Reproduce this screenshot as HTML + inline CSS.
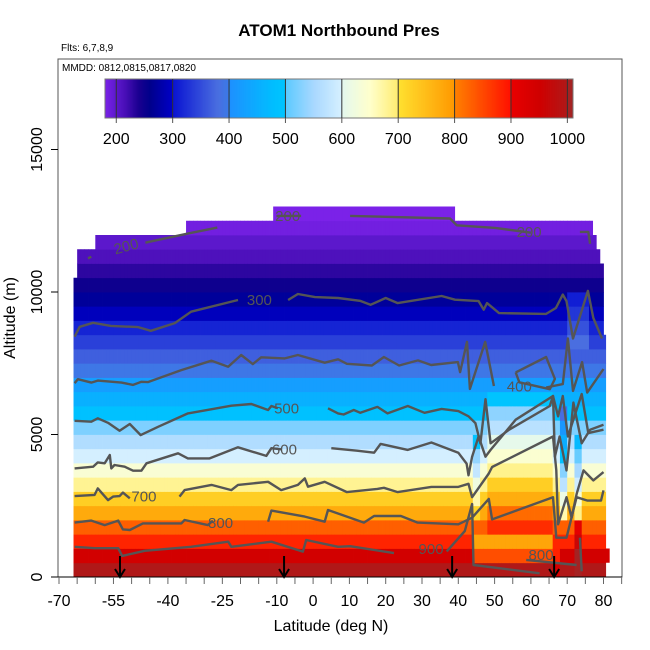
<!DOCTYPE html>
<html><head><meta charset="utf-8"><style>
html,body{margin:0;padding:0;background:#fff;}
svg{display:block;font-family:"Liberation Sans",sans-serif;}
</style></head><body>
<svg id="chart" width="650" height="650" viewBox="0 0 650 650">
<text x="339" y="36" text-anchor="middle" font-size="17" font-weight="bold">ATOM1 Northbound Pres</text>
<text x="61" y="51" font-size="10">Flts: 6,7,8,9</text>
<g id="heat"></g>
<g id="contours"></g>
<g id="arrows"></g>
<rect x="58" y="59" width="564" height="518" fill="none" stroke="#555" stroke-width="1"/>
<text x="62" y="71" font-size="10">MMDD: 0812,0815,0817,0820</text>
<g id="cbar"></g>
<g id="xaxis"></g>
<g id="yaxis"></g>
<text x="331" y="631" text-anchor="middle" font-size="16">Latitude (deg N)</text>
<text transform="translate(15,318) rotate(-90)" text-anchor="middle" font-size="16">Altitude (m)</text>
</svg>
<script>
// ---- data ----
const rowBasePres = [1000,945,882,830,775,726,681,639,598,560,523,488,455,424,395,367,340,315,292,270,249,230,212,200,186,172];
const extentStart = [-66,-65,-60,-35,-11,39,77,78,79,80];
const extentEnd   = [-65,-60,-35,-11,39,77,78,79,80,80.6];
const extentTopKm = [10.5,11.5,12,12.5,13,12.5,12,11.5,11,8.5];
const patchLat0 = [44.5,48,44,68,72,72,70,66];
const patchLat1 = [46.5,66,66,70,74,74,76,68];
const patchAlt0 = [2,1.5,0.5,2,2,0,8,0];
const patchAlt1 = [5,6.5,1.5,6,5,2,10,1];
const patchDelta = [-60,45,-100,-110,-90,80,40,-60];
const cbTicks = [200,300,400,500,600,700,800,900,1000];
const xTickLabels = [-70,-55,-40,-25,-10,0,10,20,30,40,50,60,70,80];
const yTicks = [0,5000,10000,15000];
const arrowLats = [-53.2,-8.0,38.3,66.4];
const contourLevels = ["200","300","400","500","600","700","800","900"];
const c200 = [[[-62.0,11.18],[-61.1,11.24]],[[-46.2,11.73],[-45.5,11.75],[-34.2,12.06],[-26.4,12.26]],[[-10.1,12.67],[-3.3,12.67]],[[10.2,12.67],[37.7,12.58],[39.6,12.34],[50.2,12.25],[60.0,12.08]],[[73.5,12.11],[75.8,12.11],[76.3,11.69]]];
const c300 = [[[-65.7,8.43],[-64.3,8.78],[-60.6,8.92],[-55.7,8.81],[-48.2,8.77],[-44.7,8.64],[-38.1,8.91],[-33.6,9.31],[-20.7,9.72]],[[-6.9,9.72],[-4.2,9.93],[0.5,9.82],[6.9,9.79],[12.9,9.69],[15.8,9.55],[20.0,9.79],[23.3,9.61],[35.4,9.86],[39.1,9.73],[45.6,9.68],[47.0,9.38],[47.9,9.61],[51.2,9.26],[64.2,9.23],[66.9,9.44],[68.8,9.91],[69.8,9.68],[71.6,8.37],[75.7,10.04],[77.2,9.09],[79.6,8.37]]];
const c400 = [[[-65.7,6.80],[-64.8,6.94],[-61.1,6.82],[-59.3,6.89],[-52.8,6.82],[-49.6,6.74],[-47.3,6.85],[-45.5,6.84],[-36.3,7.26],[-28.0,7.59],[-23.4,7.38],[-19.8,7.79],[-16.6,7.47],[-14.3,7.71],[-7.8,7.67],[-4.2,7.79],[3.2,7.52],[6.9,7.64],[9.3,7.48],[16.2,7.42],[19.5,7.72],[23.7,7.42],[28.9,7.60],[32.5,7.44],[39.9,7.54],[40.5,7.19],[42.4,8.25],[43.2,6.60],[47.4,8.25],[49.8,6.70]],[[64.2,6.65],[68.8,6.77],[70.2,8.37],[71.6,6.53],[74.1,7.54],[75.5,6.47],[80.0,7.30]],[[55.8,7.18],[64.2,7.72],[66.6,6.95],[65.2,6.59],[56.8,6.83],[55.8,7.18]]];
const c500 = [[[-65.7,5.48],[-61.1,5.45],[-59.3,5.57],[-56.5,5.41],[-53.3,5.13],[-50.5,5.37],[-47.5,4.98],[-42.7,5.27],[-34.5,5.74],[-22.5,6.01],[-17.0,6.07],[-12.4,5.86],[-11.5,6.00],[-9.7,5.92]],[[4.1,5.92],[6.9,5.74],[8.4,5.70],[11.2,5.86],[13.0,5.76],[17.7,5.97],[20.5,5.74],[26.1,6.00],[30.7,5.76],[35.4,5.90],[40.0,5.82],[42.8,5.64],[44.7,5.40],[46.1,4.69],[47.5,6.24],[48.9,4.69],[54.0,5.17],[65.2,6.00],[66.1,6.35],[67.5,5.64],[68.8,6.35],[70.2,4.93],[74.0,6.42],[75.8,5.05],[80.0,5.17]]];
const c600 = [[[-65.7,3.81],[-60.6,3.87],[-59.3,4.02],[-57.4,3.99],[-56.0,4.28],[-55.6,3.81],[-54.7,3.93],[-51.9,3.87],[-49.6,3.73],[-47.3,3.73],[-45.9,3.99],[-37.2,4.34],[-34.5,4.16],[-28.5,4.16],[-20.7,4.55],[-12.9,4.25],[-11.5,4.52],[-8.8,4.48]],[[5.0,4.52],[12.1,4.43],[16.8,4.36],[18.6,4.67],[26.1,4.46],[32.6,4.72],[40.0,4.36],[42.3,3.98],[42.8,3.57],[43.8,4.22],[45.6,4.93],[47.5,4.22],[48.9,4.46],[55.8,5.52],[66.1,6.35],[66.6,4.22],[67.9,4.93],[69.8,3.74],[71.7,6.12],[74.0,4.69],[76.3,5.17],[80.0,5.34]]];
const c700 = [[[-65.7,2.84],[-60.2,2.88],[-59.3,3.11],[-56.5,2.70],[-55.1,2.82],[-53.3,2.84],[-52.4,2.96],[-50.5,2.76]],[[-36.8,2.82],[-35.4,3.05],[-28.0,3.23],[-22.5,3.05],[-20.7,3.23],[-12.4,3.34],[-8.8,3.05],[-4.2,3.23],[-2.3,3.46],[-1.4,3.17],[3.2,3.34],[9.3,2.98],[17.7,3.09],[19.5,3.13],[23.3,2.98],[32.6,3.16],[40.0,3.16],[42.8,3.27],[43.8,2.80],[48.4,3.63],[49.3,3.86],[66.1,4.93],[67.0,3.74],[67.5,1.85],[69.8,2.80],[71.2,2.08],[72.6,2.91],[74.5,3.74],[77.2,3.39],[80.0,3.68]]];
const c800 = [[[-65.7,1.91],[-61.1,1.98],[-57.4,1.82],[-53.7,1.98],[-52.4,1.67],[-50.5,1.65],[-46.9,1.88],[-36.3,1.88],[-35.4,2.00],[-29.0,1.82],[-27.6,1.98]],[[-12.4,1.94],[-11.5,2.33],[-2.3,2.12],[3.2,1.94],[4.1,2.35],[10.2,2.08],[14.0,1.91],[16.8,2.14],[24.2,2.14],[28.8,1.91],[40.0,1.85],[43.8,2.08],[48.4,2.74],[49.3,2.02],[66.1,2.80],[67.0,1.38],[69.8,1.38],[72.6,2.80],[75.6,2.68],[79.3,2.68],[80.0,3.04]],[[58.7,0.60],[72.6,0.42]]];
const c900 = [[[-65.7,1.06],[-60.2,1.01],[-53.7,1.01],[-52.6,0.74],[-46.4,0.92],[-33.6,1.06],[-23.4,1.24],[-22.5,1.06],[-11.5,1.24],[-2.8,0.89],[-1.9,1.30],[6.9,1.06],[10.2,1.08],[22.3,0.84]],[[36.8,0.90],[41.8,1.61],[43.8,2.56],[44.2,0.42],[62.4,0.13]],[[73.5,1.38],[74.0,0.2]]];
const contourSets = [c200,c300,c400,c500,c600,c700,c800,c900];
const labelText = ["200","200","200","300","400","500","600","700","800","900","800"];
const labelLat = [-51.5,-7.0,59.5,-14.8,56.8,-7.3,-7.9,-46.6,-25.5,32.5,62.8];
const labelAlt = [11.6,12.67,12.1,9.72,6.68,5.92,4.48,2.82,1.89,0.98,0.78];
const labelRot = [-15,0,0,0,0,0,0,0,0,0,0];

// ---- scales ----
const NS = "http://www.w3.org/2000/svg";
function xS(lat){ return 59 + (lat + 70) * 3.63; }
function yS(km){ return 577 - km * 28.5; }
function cbX(p){ return 105 + (p - 180) * (468 / 830); }
const stops = [[180,"#7b22e8"],[200,"#5c18cc"],[215,"#4a0fb8"],[240,"#1a0090"],[260,"#00008b"],[300,"#0000c8"],[301,"#0a14d2"],[380,"#4a6ee0"],[400,"#3a7ae8"],[401,"#1e90ff"],[480,"#00bfff"],[500,"#00c4ff"],[501,"#5ccaff"],[550,"#a8d8ff"],[600,"#d6f0ff"],[601,"#e4f8ee"],[650,"#ffffcc"],[700,"#ffec70"],[701,"#ffe030"],[800,"#ff9800"],[801,"#ff8000"],[900,"#ff1000"],[901,"#e80000"],[950,"#d00000"],[1000,"#b01818"],[1001,"#a52222"],[1010,"#a52222"]];
function hex(c){ return [parseInt(c.slice(1,3),16),parseInt(c.slice(3,5),16),parseInt(c.slice(5,7),16)]; }
function color(p){
  if (p <= stops[0][0]) return stops[0][1];
  for (let i = 1; i < stops.length; i++) {
    if (p <= stops[i][0]) {
      const a = hex(stops[i-1][1]), b = hex(stops[i][1]);
      const t = (p - stops[i-1][0]) / (stops[i][0] - stops[i-1][0]);
      return "rgb(" + a.map((v,k)=>Math.round(v + (b[k]-v)*t)).join(",") + ")";
    }
  }
  return stops[stops.length-1][1];
}
function mk(tag, attrs, parent){
  const e = document.createElementNS(NS, tag);
  for (const k in attrs) e.setAttribute(k, attrs[k]);
  parent.appendChild(e);
  return e;
}

// ---- heatmap ----
const heat = document.getElementById("heat");
function cellPres(lat, row){
  let p = rowBasePres[row];
  const alt = row * 0.5 + 0.25;
  for (let i = 0; i < patchDelta.length; i++) {
    if (lat >= patchLat0[i] && lat < patchLat1[i] && alt >= patchAlt0[i] && alt < patchAlt1[i]) p += patchDelta[i];
  }
  return p;
}
for (let e = 0; e < extentStart.length; e++) {
  for (let l = extentStart[e]; l < extentEnd[e] - 1e-6; l += 1) {
    const l1 = Math.min(l + 1, extentEnd[e]);
    const nRows = Math.round(extentTopKm[e] / 0.5);
    for (let r = 0; r < nRows; r++) {
      const rc = mk("rect", {x: xS(l).toFixed(2), y: yS((r+1)*0.5).toFixed(2), width: (xS(l1)-xS(l)+0.4).toFixed(2), height: (yS(r*0.5)-yS((r+1)*0.5)+0.4).toFixed(2), fill: color(cellPres(l + 0.5, r))}, heat);
      
      
    }
  }
}
const ex = mk("rect", {x: xS(80.6), y: yS(1.0), width: xS(81.7)-xS(80.6), height: yS(0.5)-yS(1.0), fill: color(cellPres(80.6,1))}, heat);



// ---- contours ----
const cg = document.getElementById("contours");
contourSets.forEach((set, si) => {
  set.forEach(seg => {
    const pl = mk("polyline", {points: seg.map(p => xS(p[0]).toFixed(1) + "," + yS(p[1]).toFixed(1)).join(" "), fill: "none", stroke: "#555", "stroke-width": 2.4, "stroke-linejoin": "round"}, cg);
    
    
  });
});
labelText.forEach((t, i) => {
  const tx = mk("text", {x: xS(labelLat[i]), y: yS(labelAlt[i]) + 5, "text-anchor": "middle", "font-size": 15, fill: "#555", transform: "rotate(" + labelRot[i] + " " + xS(labelLat[i]) + " " + yS(labelAlt[i]) + ")"}, cg);
  tx.textContent = t;
  
  
});

// ---- arrows ----
const ag = document.getElementById("arrows");
arrowLats.forEach(l => {
  const x = xS(l);
  const g = mk("g", {}, ag);
  
  
  mk("line", {x1: x, y1: 556, x2: x, y2: 576, stroke: "#000", "stroke-width": 2}, g);
  mk("polyline", {points: (x-5)+",569 "+x+",577 "+(x+5)+",569", fill: "none", stroke: "#000", "stroke-width": 2}, g);
});

// ---- colorbar ----
const cb = document.getElementById("cbar");
for (let p = 180; p < 1010; p += 2) {
  const r = mk("rect", {x: cbX(p).toFixed(2), y: 79, width: (cbX(p+2)-cbX(p)+0.5).toFixed(2), height: 39, fill: color(p+1)}, cb);
  
  
}
mk("rect", {x: 105, y: 79, width: 468, height: 39, fill: "none", stroke: "#777", "stroke-width": 1}, cb);
cbTicks.forEach(v => {
  const x = cbX(v);
  mk("line", {x1: x, y1: 79, x2: x, y2: 118, stroke: "#333", "stroke-width": 1}, cb);
  mk("line", {x1: x, y1: 118, x2: x, y2: 123, stroke: "#555", "stroke-width": 1}, cb);
  const t = mk("text", {x: x, y: 144, "text-anchor": "middle", "font-size": 16}, cb);
  t.textContent = v;
  
  
});

// ---- axes ----
const xa = document.getElementById("xaxis");
mk("line", {x1: 58, y1: 577, x2: 622, y2: 577, stroke: "#000", "stroke-width": 1}, xa);
for (let l = -70; l <= 85; l += 5) {
  mk("line", {x1: xS(l), y1: 577, x2: xS(l), y2: 584, stroke: "#666", "stroke-width": 1}, xa);
}
xTickLabels.forEach(v => {
  const t = mk("text", {x: xS(v), y: 606, "text-anchor": "middle", "font-size": 16}, xa);
  t.textContent = v;
  
  
});
const ya = document.getElementById("yaxis");
yTicks.forEach(v => {
  const y = yS(v / 1000);
  mk("line", {x1: 51, y1: y, x2: 58, y2: y, stroke: "#000", "stroke-width": 1}, ya);
  const t = mk("text", {x: 0, y: 0, "text-anchor": "middle", "font-size": 16, transform: "translate(42," + y + ") rotate(-90)"}, ya);
  t.textContent = v;
  
  
});
</script>
</body></html>
